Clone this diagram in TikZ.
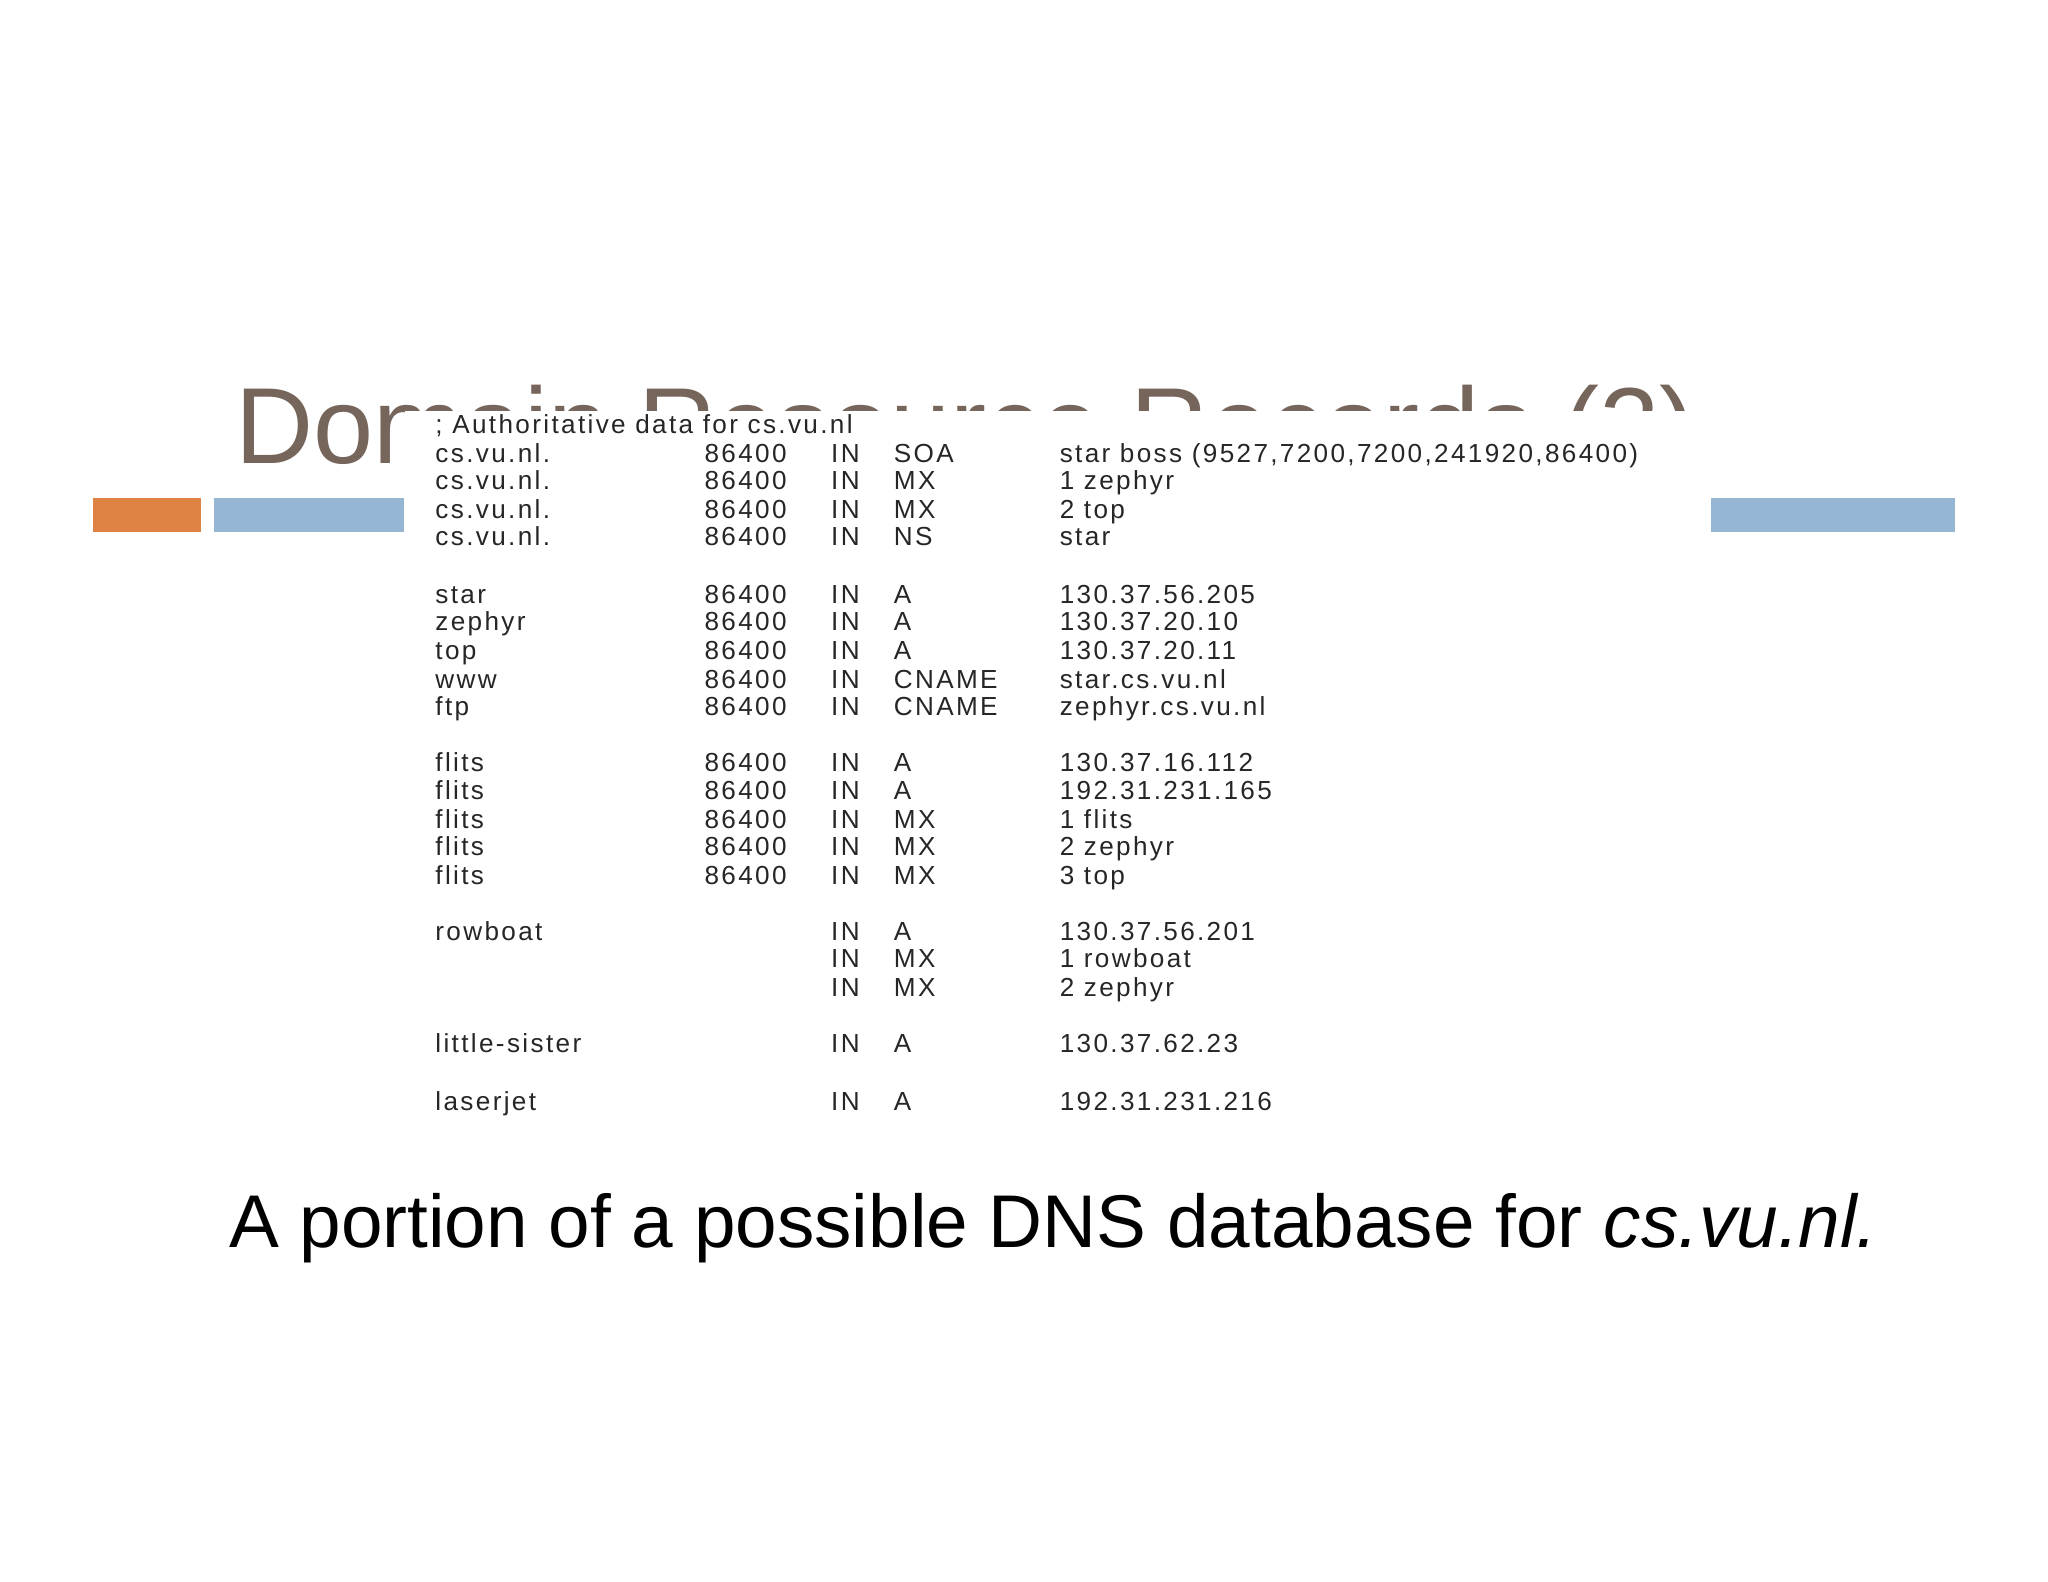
\documentclass[tikz,border=0pt]{standalone}
\usepackage{fontspec}
\setmainfont{Liberation Sans}
\newfontfamily\tablefont[LetterSpace=9]{Liberation Sans}
\definecolor{titlec}{HTML}{76655B}
\definecolor{orangebar}{HTML}{DE8344}
\definecolor{bluebar}{HTML}{94B6D2}
\begin{document}
\begin{tikzpicture}[x=0.5pt,y=-0.5pt,
  cell/.style={anchor=base west,inner sep=0,font=\tablefont\fontsize{10}{11}\selectfont,text=black!85}]
\useasboundingbox (0,0) rectangle (1568,1211);
\fill[white] (0,0) rectangle (1568,1211);
\node[anchor=base west,inner sep=0,text=titlec,font=\fontsize{41.4}{50}\selectfont] (title) at (180,355) {Domain Resource Records (2)};
\fill[orangebar] (71,381) rectangle (154,407);
\fill[bluebar] (164,381) rectangle (309,407);
\fill[bluebar] (1310,381) rectangle (1497,407);
\fill[white] (310,315) rectangle (1310,862);
\node[cell] (c0) at (333,332) {; Authoritative data for cs.vu.nl};
\foreach \i/\y/\a/\b/\c/\d/\e in {
 1/354/cs.vu.nl./86400/IN/SOA/{star boss (9527,7200,7200,241920,86400)},
 2/375/cs.vu.nl./86400/IN/MX/1 zephyr,
 3/397/cs.vu.nl./86400/IN/MX/2 top,
 4/418/cs.vu.nl./86400/IN/NS/star,
 5/462/star/86400/IN/A/130.37.56.205,
 6/483/zephyr/86400/IN/A/130.37.20.10,
 7/505/top/86400/IN/A/130.37.20.11,
 8/527/www/86400/IN/CNAME/star.cs.vu.nl,
 9/548/ftp/86400/IN/CNAME/zephyr.cs.vu.nl,
 10/591/flits/86400/IN/A/130.37.16.112,
 11/612/flits/86400/IN/A/192.31.231.165,
 12/634/flits/86400/IN/MX/1 flits,
 13/655/flits/86400/IN/MX/2 zephyr,
 14/677/flits/86400/IN/MX/3 top,
 15/720/rowboat//IN/A/130.37.56.201,
 16/741///IN/MX/1 rowboat,
 17/763///IN/MX/2 zephyr,
 18/806/little-sister//IN/A/130.37.62.23,
 19/850/laserjet//IN/A/192.31.231.216}{
  \node[cell] (n\i) at (333,\y) {\a};
  \node[cell] (t\i) at (539,\y) {\b};
  \node[cell] (i\i) at (636,\y) {\c};
  \node[cell] (k\i) at (684,\y) {\d};
  \node[cell] (v\i) at (811,\y) {\e};
}
\node[anchor=base west,inner sep=0,font=\fontsize{28.6}{34}\selectfont] (cap) at (175,955) {A portion of a possible DNS database for \textit{cs.vu.nl.}};
\end{tikzpicture}
\end{document}
